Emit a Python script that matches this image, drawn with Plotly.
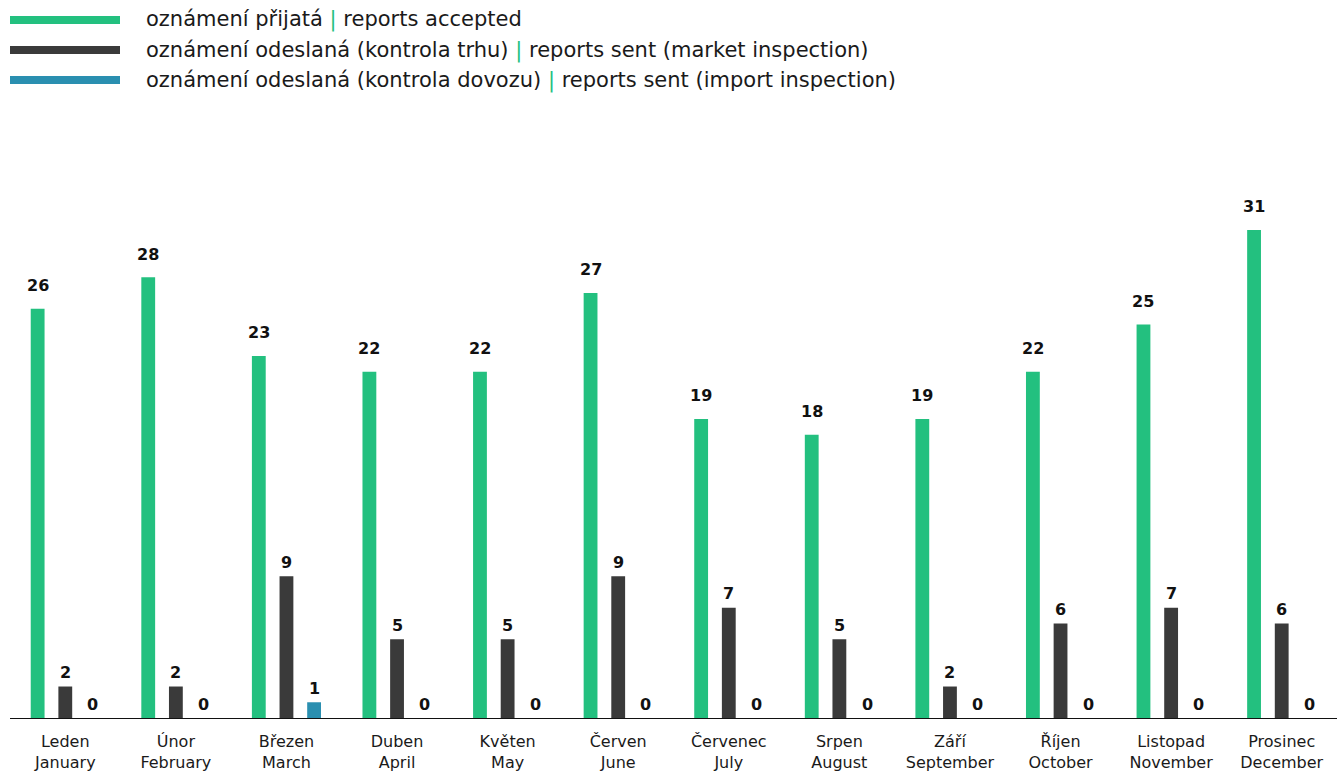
import plotly.graph_objects as go

months_cz = ["Leden", "Únor", "Březen", "Duben", "Květen", "Červen", "Červenec", "Srpen", "Září", "Říjen", "Listopad", "Prosinec"]
months_en = ["January", "February", "March", "April", "May", "June", "July", "August", "September", "October", "November", "December"]
categories = [f"{c}<br>{e}" for c, e in zip(months_cz, months_en)]

accepted = [26, 28, 23, 22, 22, 27, 19, 18, 19, 22, 25, 31]
sent_market = [2, 2, 9, 5, 5, 9, 7, 5, 2, 6, 7, 6]
sent_import = [0, 0, 1, 0, 0, 0, 0, 0, 0, 0, 0, 0]

series_names = [
    "oznámení přijatá | reports accepted",
    "oznámení odeslaná (kontrola trhu) | reports sent (market inspection)",
    "oznámení odeslaná (kontrola dovozu) | reports sent (import inspection)",
]
colors = ["#23c07f", "#3a3a3a", "#2a8fb0"]
FONT = "DejaVu Sans"

PLOT_W, PLOT_H = 1327, 588
slot_px = PLOT_W / 12 * 0.75 / 3
label_shift = [23, 14, 14]

fig = go.Figure()
for i, (vals, name, col) in enumerate(zip([accepted, sent_market, sent_import], series_names, colors)):
    fig.add_trace(go.Bar(
        x=categories, y=vals, name=name,
        marker=dict(color=col, line=dict(width=0)),
        showlegend=False,
    ))
    for c, v in zip(categories, vals):
        fig.add_annotation(x=c, y=v, xref="x", yref="y", text=f"<b>{v}</b>",
                           showarrow=False, xanchor="center", yanchor="middle",
                           xshift=(i - 1) * slot_px, yshift=label_shift[i],
                           font=dict(family=FONT, size=16, color="#111111"))

# custom legend
legend_y = [20, 50, 80]
H = 773
for name, col, yy in zip(series_names, colors, legend_y):
    cz, en = name.split(" | ")
    fig.add_shape(type="rect", xref="paper", yref="paper",
                  x0=0, x1=110 / PLOT_W,
                  y0=(H - 55 - (yy + 4)) / PLOT_H, y1=(H - 55 - (yy - 4)) / PLOT_H,
                  fillcolor=col, line=dict(width=0), layer="above")
    fig.add_annotation(xref="paper", yref="paper",
                       x=134 / PLOT_W, y=(H - 55 - yy) / PLOT_H,
                       xanchor="left", yanchor="middle", showarrow=False,
                       text=f"{cz} <span style='color:#23c07f'>|</span> {en}",
                       font=dict(family=FONT, size=21, color="#1a1a1a"))

fig.update_layout(
    width=1337, height=773,
    margin=dict(l=10, r=0, t=130, b=55),
    paper_bgcolor="white", plot_bgcolor="white",
    barmode="group", bargap=0.25, bargroupgap=0.5,
    font=dict(family=FONT, size=16, color="#1a1a1a"),
    xaxis=dict(showline=True, linecolor="#111111", linewidth=1, showgrid=False,
               ticks="", ticklabelstandoff=9,
               tickfont=dict(family=FONT, size=16, color="#1a1a1a")),
    yaxis=dict(visible=False, range=[0, 37.35], showgrid=False, zeroline=False),
)
fig.write_html("out.html")
